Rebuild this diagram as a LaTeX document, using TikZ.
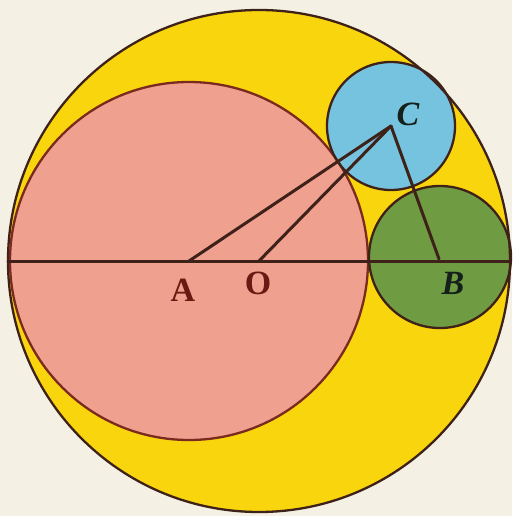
\documentclass[tikz,border=0pt]{standalone}
\usepackage{fontspec}
\setmainfont{Liberation Serif}
\definecolor{bgc}{HTML}{F4F1E4}
\definecolor{yel}{HTML}{F8D50C}
\definecolor{pnk}{HTML}{F0A08E}
\definecolor{blu}{HTML}{76C3DF}
\definecolor{grn}{HTML}{6F9C42}
\definecolor{linec}{HTML}{3E2219}
\definecolor{pinkline}{HTML}{7A2A1E}
\definecolor{labred}{HTML}{6A1A12}
\definecolor{labdark}{HTML}{15201A}
\begin{document}
\begin{tikzpicture}[x=1pt,y=-1pt,
  outline/.style={draw=linec, line width=2.3pt},
  edge/.style={draw=linec, line width=3pt, line cap=round},
  lab/.style={font=\fontsize{34}{34}\selectfont\bfseries, text=labred, inner sep=0pt},
  labit/.style={font=\fontsize{34}{34}\selectfont\bfseries\itshape, text=labdark, inner sep=0pt}]
\useasboundingbox (0,0) rectangle (512,516);
\fill[bgc] (0,0) rectangle (512,516);
% centres
\coordinate (O) at (259,261);
\coordinate (A) at (189,261);
\coordinate (B) at (439,259);
\coordinate (C) at (391,126);
\coordinate (L) at (8,261);
\coordinate (R) at (510,261);
% discs
\fill[yel] (O) circle[radius=251];
\fill[pnk] (A) circle[radius=179];
\fill[blu] (C) circle[radius=64];
\fill[grn] (440,257) circle[radius=71];
% outlines
\draw[outline] (O) circle[radius=251];
\draw[outline, draw=pinkline] (A) circle[radius=179];
\draw[outline] (C) circle[radius=64];
\draw[outline] (440,257) circle[radius=71];
% segments
\draw[edge] (L) -- (R);
\draw[edge] (A) -- (C);
\draw[edge] (O) -- (C);
\draw[edge] (C) -- (B);
% labels
\node[lab] (lA) at (183,290) {A};
\node[lab] (lO) at (258,283) {O};
\node[labit] (lB) at (453,283) {B};
\node[labit] (lC) at (408,114) {C};
\end{tikzpicture}
\end{document}
